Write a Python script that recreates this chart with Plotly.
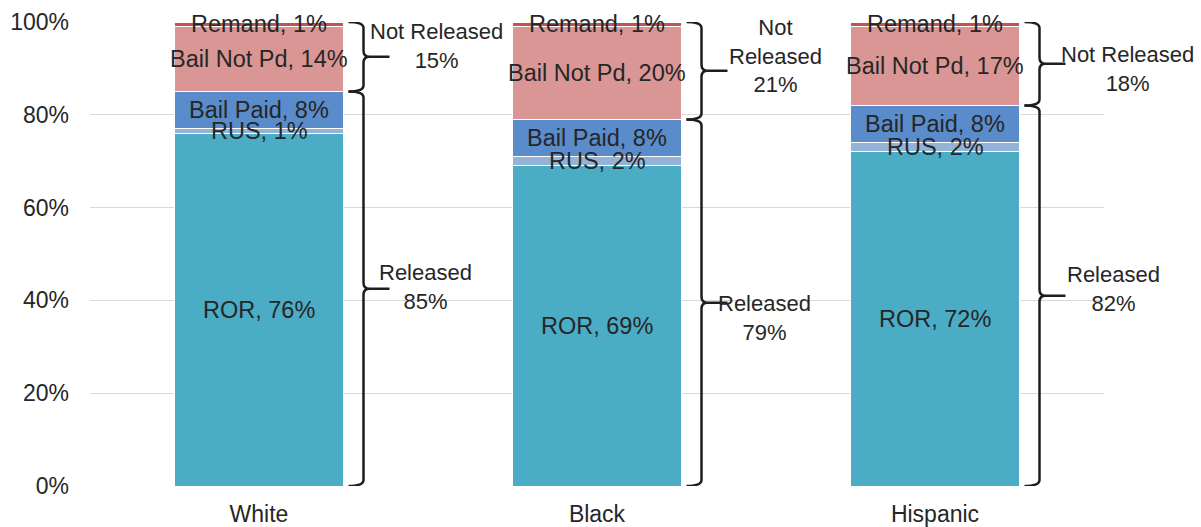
import plotly.graph_objects as go

# Pretrial outcome shares (%) by race
categories = ["White", "Black", "Hispanic"]
segment_names = ["ROR", "RUS", "Bail Paid", "Bail Not Pd", "Remand"]
ror = [76, 69, 72]
rus = [1, 2, 2]
bail_paid = [8, 8, 8]
bail_not_pd = [14, 20, 17]
remand = [1, 1, 1]
not_released_names = ["Not Released", "Not<br>Released", "Not Released"]
y_ticks = [0, 20, 40, 60, 80, 100]

series = [ror, rus, bail_paid, bail_not_pd, remand]
colors = ["#4BACC6", "#95B3D7", "#5A8BCB", "#DA9694", "#C8504D"]
text_color = "#262626"
font_family = "Liberation Sans, Arial, sans-serif"

xpos = list(range(len(categories)))
released = [a + b + c for a, b, c in zip(ror, rus, bail_paid)]
not_released = [a + b for a, b in zip(bail_not_pd, remand)]

fig = go.Figure()

# stacked bars
for name, vals, col in zip(segment_names, series, colors):
    fig.add_trace(go.Bar(
        x=xpos, y=vals, name=name, width=0.5,
        marker=dict(color=col, line=dict(color="white", width=1)),
        hoverinfo="skip", showlegend=False,
    ))

# segment labels centred in each segment
base = [0] * len(categories)
for name, vals in zip(segment_names, series):
    for xc, b, v in zip(xpos, base, vals):
        fig.add_annotation(
            x=xc, y=b + v / 2, xref="x", yref="y",
            text=f"{name}, {v}%", showarrow=False, yshift=0,
            font=dict(size=23.5, color=text_color, family=font_family),
        )
    base = [b + v for b, v in zip(base, vals)]

# curly braces to the right of each bar
PX_X = 1.0 / 338.0       # data units per pixel along x
PX_Y = 100.0 / 464.0     # data units per pixel along y
HALF_BAR = 0.25


def brace_path(xc, y_lo, y_hi):
    xl = xc + HALF_BAR + 5 * PX_X
    xv = xc + HALF_BAR + 20 * PX_X
    xt = xc + HALF_BAR + 46 * PX_X
    rx, ry = 6 * PX_X, 6 * PX_Y
    ym = (y_lo + y_hi) / 2
    return (
        f"M {xl},{y_hi} Q {xv},{y_hi} {xv},{y_hi - ry} "
        f"L {xv},{ym + ry} Q {xv},{ym} {xv + rx},{ym} L {xt},{ym} "
        f"M {xv + rx},{ym} Q {xv},{ym} {xv},{ym - ry} "
        f"L {xv},{y_lo + ry} Q {xv},{y_lo} {xl},{y_lo}"
    ), xt, ym


# label offsets (px) from each brace tip
rel_shift = [(36, 2), (37, -15), (48, 7)]
nrel_shift = [(47, 11), (48, 15), (62, -5)]

for i, xc in enumerate(xpos):
    p, xt, ym = brace_path(xc, 0, released[i])
    fig.add_shape(type="path", path=p, xref="x", yref="y",
                  line=dict(color="#1E1E1E", width=2.5))
    fig.add_annotation(x=xt, y=ym, xref="x", yref="y",
                       text=f"Released<br>{released[i]}%", showarrow=False,
                       xshift=rel_shift[i][0], yshift=rel_shift[i][1],
                       font=dict(size=22, color=text_color, family=font_family))

    p, xt, ym = brace_path(xc, released[i], released[i] + not_released[i])
    fig.add_shape(type="path", path=p, xref="x", yref="y",
                  line=dict(color="#1E1E1E", width=2.5))
    fig.add_annotation(x=xt, y=ym, xref="x", yref="y",
                       text=f"{not_released_names[i]}<br>{not_released[i]}%",
                       showarrow=False,
                       xshift=nrel_shift[i][0], yshift=nrel_shift[i][1],
                       font=dict(size=22, color=text_color, family=font_family))

fig.update_layout(
    barmode="stack",
    width=1201, height=527,
    margin=dict(l=90, r=97, t=22, b=41),
    paper_bgcolor="white", plot_bgcolor="white",
    font=dict(family=font_family, size=23, color=text_color),
    xaxis=dict(
        range=[-0.5, 2.5], tickmode="array", tickvals=xpos, ticktext=categories,
        showgrid=False, zeroline=False, showline=False, ticks="",
        automargin=False,
        ticklabelstandoff=12, tickfont=dict(size=23, color=text_color),
    ),
    yaxis=dict(
        range=[0, 100], tickmode="array", tickvals=y_ticks,
        ticktext=[f"{t}%" for t in y_ticks],
        showgrid=True, gridcolor="#D9D9D9", gridwidth=1,
        zeroline=False, showline=False, ticks="", automargin=False,
        ticklabelstandoff=20, tickfont=dict(size=23, color=text_color),
    ),
)

fig.write_html("out.html")
